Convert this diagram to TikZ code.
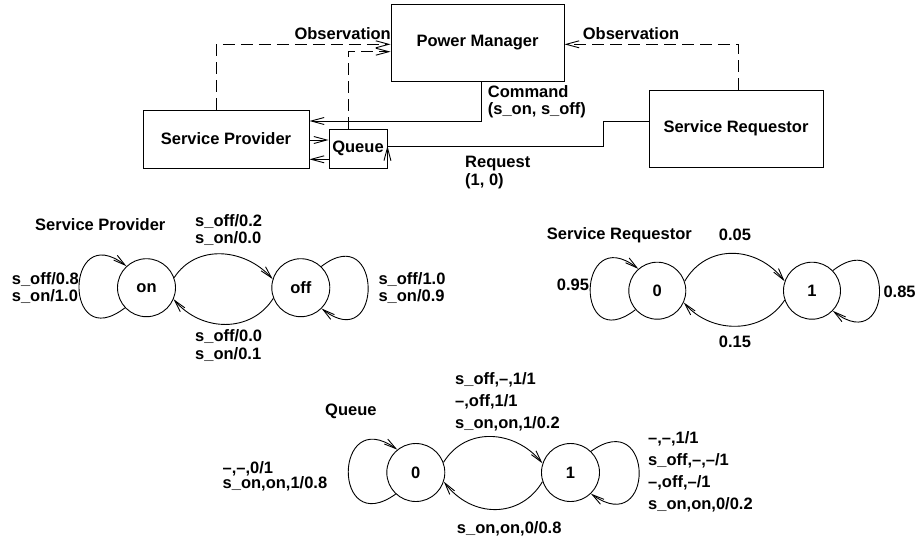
\documentclass[tikz,border=0pt]{standalone}
\usepackage{fontspec}
\setmainfont{Liberation Sans}
\usetikzlibrary{arrows.meta,calc}
\begin{document}
\begin{tikzpicture}[x=1pt,y=-1pt,
  txt/.style={font=\bfseries\fontsize{16.5}{17.5}\selectfont},
  lbl/.style={txt, inner sep=0pt, align=left},
  blk/.style={txt, draw, line width=0.9pt, inner sep=0pt},
  st/.style={txt, draw, circle, line width=0.9pt, inner sep=0pt, minimum size=#1},
  link/.style={line width=0.9pt},
  obs/.style={link, dash pattern=on 12pt off 6pt},
  barb/.style={-{Straight Barb[length=13pt,width=7pt]}},
  fsm/.style={link, -{Straight Barb[length=12pt,width=6pt]}},
]
\useasboundingbox (0,0) rectangle (916,542);

% ---------------- system blocks ----------------
\node[blk, minimum width=173pt, minimum height=77pt] (pm) at (477.5,42.5) {Power Manager};
\node[blk, minimum width=166pt, minimum height=58pt] (sp) at (226,139) {Service Provider};
\node[blk, minimum width=58pt, minimum height=39pt] (q) at (358,148.5) {Queue};
\node[blk, minimum width=174pt, minimum height=77pt] (sr) at (736,128.5) {Service Requestor};

% observations (dashed)
\draw[obs, barb] ($(sp.north)+(-10,0)$) |- ($(pm.west)+(0,1.8)$);
\draw[obs, barb] ($(q.north)+(-9.7,0)$) |- ($(pm.west)+(0,9.2)$);
\draw[obs, barb] ($(sr.north)+(2.3,0)$) |- ($(pm.east)+(0,1.8)$);

% command
\draw[link, barb] ($(pm.south)+(4.2,0)$) |- ($(sp.east)+(0,-18)$);

% request
\coordinate (qin) at ($(q.east)+(0,-2.5)$);
\draw[link] ($(sr.west)+(0,-6.8)$) -- ++(-45,0) |- (qin);
\draw[link, barb] ($(qin)+(0,13)$) -- (qin);

% provider <-> queue
\draw[link, barb] ($(sp.east)+(0,1)$) -- ($(q.west)+(0,-8.5)$);
\draw[link, barb] ($(q.west)+(0,10.8)$) -- ($(sp.east)+(0,20.3)$);

\node[lbl, anchor=east] (obsL) at (391,33.3) {Observation};
\node[lbl, anchor=west] (obsR) at (582.7,33.3) {Observation};
\node[lbl, anchor=west] (cmd) at (487.7,101.7) {Command\\(s\_on, s\_off)};
\node[lbl, anchor=west] (req) at (465,172.5) {Request\\(1, 0)};

% ---------------- service provider FSM ----------------
\node[lbl, anchor=west] (tSP) at (35,225) {Service Provider};
\node[st=58pt] (on) at (146.5,287.7) {on};
\node[st=58pt] (off) at (300.8,287.7) {off};
\draw[fsm] (on.20) .. controls +(22,-34) and +(-28,-31) .. (off.163);
\draw[fsm] (off.201) .. controls +(-22,35) and +(28,33) .. (on.337);
\draw[fsm] (on.223) .. controls +(-62,48) and +(-62,-48) .. (on.133);
\draw[fsm] (off.46) .. controls +(62,-48) and +(62,48) .. (off.315);
\node[lbl, anchor=west] (spL) at (11.7,287.9) {s\_off/0.8\\s\_on/1.0};
\node[lbl, anchor=west] (spT) at (195,230) {s\_off/0.2\\s\_on/0.0};
\node[lbl, anchor=west] (spR) at (378.3,287.9) {s\_off/1.0\\s\_on/0.9};
\node[lbl, anchor=west] (spB) at (195,345.3) {s\_off/0.0\\s\_on/0.1};

% ---------------- service requestor FSM ----------------
\node[lbl, anchor=west] (tSR) at (546.7,235) {Service Requestor};
\node[st=57pt] (r0) at (657.3,290.7) {0};
\node[st=57pt] (r1) at (812,290.7) {1};
\draw[fsm] (r0.19) .. controls +(22,-38) and +(-28,-36) .. (r1.161);
\draw[fsm] (r1.199) .. controls +(-22,34) and +(28,32) .. (r0.336);
\draw[fsm] (r0.221) .. controls +(-62,48) and +(-62,-48) .. (r0.131);
\draw[fsm] (r1.44) .. controls +(62,-48) and +(62,48) .. (r1.316);
\node[lbl] (rT) at (735,235) {0.05};
\node[lbl] (rB) at (735,341.7) {0.15};
\node[lbl, anchor=west] (rL) at (556.7,285) {0.95};
\node[lbl, anchor=west] (rR) at (883.3,291.7) {0.85};

% ---------------- queue FSM ----------------
\node[lbl, anchor=west] (tQ) at (325,411.7) {Queue};
\node[st=58pt] (q0) at (415.8,472.5) {0};
\node[st=58pt] (q1) at (570.5,472.5) {1};
\draw[fsm] (q0.20) .. controls +(22,-36) and +(-28,-34) .. (q1.162);
\draw[fsm] (q1.198) .. controls +(-22,37) and +(28,37) .. (q0.342);
\draw[fsm] (q0.227) .. controls +(-64,46) and +(-64,-46) .. (q0.129);
\draw[fsm] (q1.46) .. controls +(64,-46) and +(64,46) .. (q1.314);
\node[lbl, anchor=west, font=\bfseries\fontsize{16.5}{22}\selectfont] (qT) at (455,402.2) {s\_off,–,1/1\\–,off,1/1\\s\_on,on,1/0.2};
\node[lbl, anchor=west, font=\bfseries\fontsize{16.5}{15}\selectfont] (qL) at (222.5,476.3) {–,–,0/1\\s\_on,on,1/0.8};
\node[lbl, anchor=west, font=\bfseries\fontsize{16.5}{22}\selectfont] (qR) at (648,471.3) {–,–,1/1\\s\_off,–,–/1\\–,off,–/1\\s\_on,on,0/0.2};
\node[lbl, anchor=west] (qB) at (456.7,528.3) {s\_on,on,0/0.8};
\end{tikzpicture}
\end{document}
